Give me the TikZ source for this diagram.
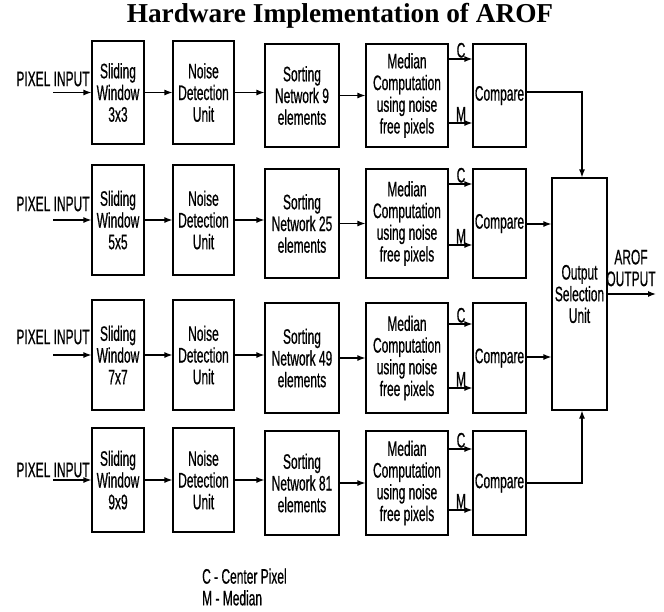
\documentclass[tikz,border=0pt]{standalone}
\usepackage{fontspec}
\newfontfamily\narrowfont{Liberation Sans}[FakeStretch=0.57,FakeBold=0.6]
\newfontfamily\titlefont{Liberation Serif}
\usetikzlibrary{arrows.meta}
\begin{document}
\begin{tikzpicture}[x=1pt,y=-1pt,
  box/.style={draw, line width=1.2pt, inner sep=0pt, align=center,
    font=\narrowfont\fontsize{21}{21.7}\selectfont},
  lbl/.style={inner sep=0pt, font=\narrowfont\fontsize{21}{21.7}\selectfont},
  arr/.style={line width=1.2pt, -{Latex[length=8pt,width=6pt]}}]
\useasboundingbox (0,0) rectangle (664,611);

\node[inner sep=0pt, font=\titlefont\bfseries\fontsize{27.3}{30}\selectfont] (title) at (340,16) {Hardware Implementation of AROF};

\foreach \r/\ya/\ha/\yb/\hb/\w/\n/\cy/\my/\oy/\py in {
  1/92.5/103/95.5/103/3x3/9/59/123/92/79,
  2/220/110/223.5/109/5x5/25/184/245/224/204,
  3/355/110/358/110/7x7/49/324/388/357/337,
  4/480/104/483/104/9x9/81/449/510/483/470}{
  \node[box, minimum width=52pt, minimum height=\ha pt] (sw\r) at (118,\ya) {Sliding\\Window\\\w};
  \node[box, minimum width=61pt, minimum height=\ha pt] (nd\r) at (203.5,\ya) {Noise\\Detection\\Unit};
  \node[box, minimum width=74pt, minimum height=\hb pt] (so\r) at (302,\yb) {Sorting\\Network \n\\elements};
  \node[box, minimum width=82pt, minimum height=\hb pt] (md\r) at (407,\yb) {Median\\Computation\\using noise\\free pixels};
  \node[box, minimum width=53pt, minimum height=\hb pt] (cp\r) at (499.5,\yb) {Compare};
  \node[lbl] (pi\r) at (53,\py) {PIXEL INPUT};
  \coordinate (in\r) at (53,\ya);
  \coordinate (c\r) at (460,\cy);
  \coordinate (m\r) at (460,\my);
  \coordinate (o\r) at (540,\oy);
  \draw[arr] (in\r) -- (sw\r);
  \draw[arr] (sw\r) -- (nd\r);
  \draw[arr] (nd\r.east) -- (nd\r.east -| so\r.west);
  \draw[arr] (so\r) -- (md\r);
  \draw[arr] (md\r.east |- c\r) -- (cp\r.west |- c\r);
  \draw[arr] (md\r.east |- m\r) -- (cp\r.west |- m\r);
  \node[lbl, anchor=base] (cl\r) at (461,\cy-1.5) {C};
  \node[lbl, anchor=base] (ml\r) at (461,\my-1.5) {M};
}

\node[box, minimum width=55pt, minimum height=232pt] (op) at (579.5,294) {Output\\Selection\\Unit};
\coordinate (vx) at (582,300);
\draw[arr] (cp1.east |- o1) -| (op.north -| vx);
\draw[arr] (cp2.east |- o2) -- (op.west |- o2);
\draw[arr] (cp3.east |- o3) -- (op.west |- o3);
\draw[arr] (cp4.east |- o4) -| (op.south -| vx);

\coordinate (aout) at (656,294);
\draw[arr] (op) -- (aout);
\node[lbl, align=center] (arof) at (631,268) {AROF\\OUTPUT};

\node[lbl, anchor=west, align=left] (legend) at (202,587) {C - Center Pixel\\M - Median};
\end{tikzpicture}
\end{document}
